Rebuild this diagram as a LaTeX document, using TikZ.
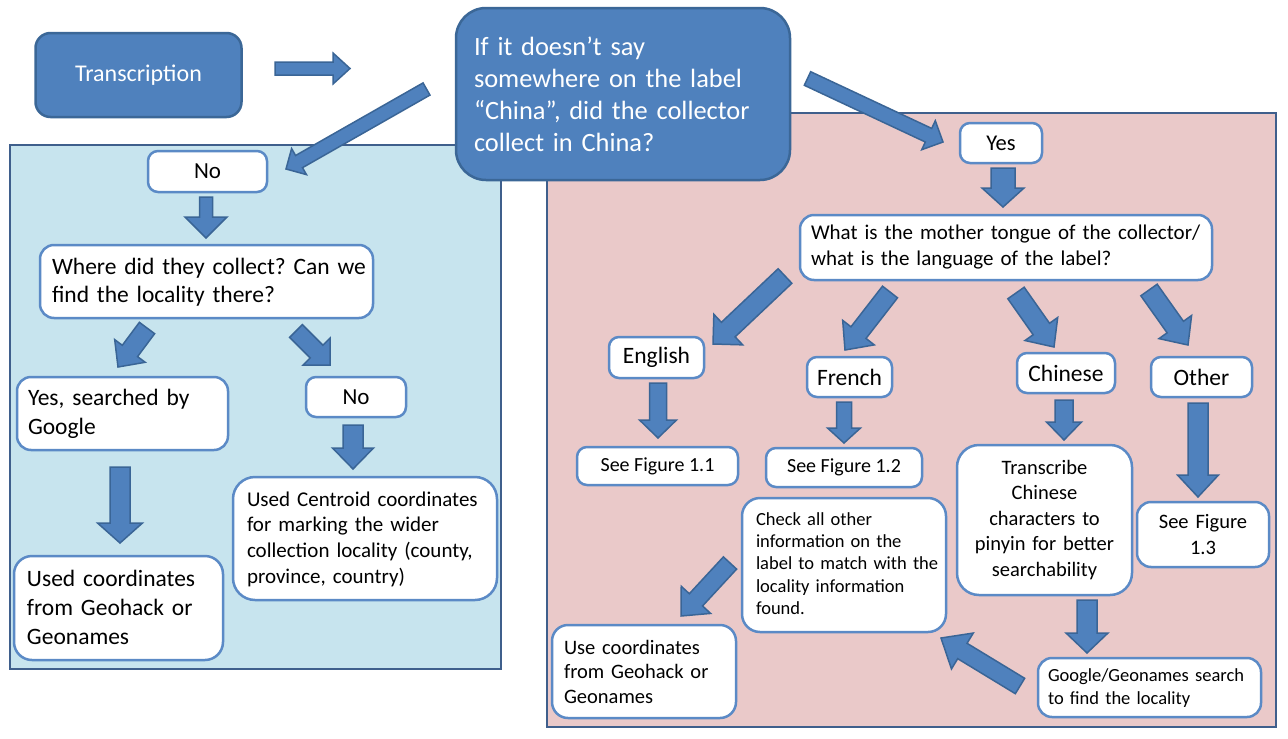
\documentclass[tikz,border=0pt]{standalone}
\usepackage{fontspec}
\setmainfont{Carlito}
\usetikzlibrary{calc}
\frenchspacing
\definecolor{mblue}{HTML}{4F81BD}
\definecolor{dblue}{HTML}{3B6797}
\definecolor{bline}{HTML}{5B8AC6}
\definecolor{aline}{HTML}{3A6596}
\definecolor{panelB}{HTML}{C7E4EE}
\definecolor{panelP}{HTML}{EAC9C9}
\definecolor{pline}{HTML}{3F5F8C}
\newcommand{\fs}[2]{\fontsize{#1pt}{#2pt}\selectfont}
\newcommand{\blockarrow}[5]{%
  \path ($(#2)!#5!(#1)$) coordinate (bh);
  \draw[barr] ($(#1)!#3!90:(#2)$) -- ($(bh)!#3!90:(#2)$) -- ($(bh)!#4!90:(#2)$) -- (#2)
    -- ($(bh)!#4!-90:(#2)$) -- ($(bh)!#3!-90:(#2)$) -- ($(#1)!#3!-90:(#2)$) -- cycle;}
\begin{document}
\begin{tikzpicture}[x=1pt,y=-1pt,
  wbox/.style={draw=bline, line width=2.5pt, fill=white, rounded corners=10pt, inner sep=0pt},
  bbox/.style={draw=dblue, line width=2.5pt, fill=mblue, text=white, rounded corners=16pt, inner sep=0pt},
  multi/.style={text height=0pt, text depth=#1},
  barr/.style={draw=aline, line width=1.5pt, fill=mblue, line join=miter},
  panel/.style={draw=pline, line width=2.5pt}]
\fill[white] (0,0) rectangle (1288,739);
\useasboundingbox (0,0) rectangle (1288,739);
% panels
\draw[panel, fill=panelB] (10,145) rectangle (501,669);
\draw[panel, fill=panelP] (547,113) rectangle (1276,727);
% top
\node[bbox, rounded corners=15pt, minimum width=206pt, minimum height=84pt, font=\fs{24}{29}] (trans) at (138.5,75) {Transcription};
\node[bbox, rounded corners=30pt, minimum height=172pt, text width=298pt, inner xsep=18pt, align=left, multi=78pt, font=\fs{26.4}{32.3}] (q) at (623,94)
  {\mbox{If it doesn’t say}\\\mbox{somewhere on the label}\\\mbox{“China”, did the collector}\\\mbox{collect in China?}};
% left panel
\node[wbox, minimum width=119pt, minimum height=41pt, font=\fs{23}{28}] (noL) at (207.5,171.5) {No};
\node[wbox, rounded corners=14pt, minimum height=73pt, text width=309pt, inner xsep=12pt, align=left, multi=15pt, font=\fs{23.5}{28.3}] (where) at (206.5,281.5)
  {\mbox{Where did they collect? Can we}\\\mbox{find the locality there?}};
\node[wbox, rounded corners=14pt, minimum height=73pt, text width=189pt, inner xsep=11pt, align=left, multi=15.6pt, font=\fs{23.5}{28.3}] (yesG) at (122.5,413.5)
  {\mbox{Yes, searched by}\\\mbox{Google}};
\node[wbox, minimum width=100pt, minimum height=40pt, font=\fs{23}{28}] (noL2) at (356,397) {No};
\node[wbox, rounded corners=18pt, minimum height=104pt, text width=183pt, inner xsep=13pt, align=left, multi=42.6pt, font=\fs{23.5}{28.7}] (usedL) at (118.5,608)
  {\mbox{Used coordinates}\\\mbox{from Geohack or}\\\mbox{Geonames}};
\node[wbox, rounded corners=22pt, minimum height=123pt, text width=236pt, inner xsep=14pt, align=left, multi=65pt, font=\fs{21}{25.7}] (centroid) at (365,538.5)
  {\mbox{Used Centroid coordinates}\\\mbox{for marking the wider}\\\mbox{collection locality (county,}\\\mbox{province, country)}};
% right panel
\node[wbox, minimum width=82pt, minimum height=40pt, font=\fs{22.5}{27}] (yes) at (1001,143) {Yes};
\node[wbox, rounded corners=14pt, minimum height=65pt, text width=390pt, inner xsep=11pt, align=left, multi=16.4pt, font=\fs{21}{25.7}] (lang) at (1006,247.5)
  {\mbox{What is the mother tongue of the collector/}\\\mbox{what is the language of the label?}};
\node[wbox, minimum width=95pt, minimum height=41pt, font=\fs{23.5}{28}] (english) at (656.5,357.5) {English};
\node[wbox, minimum width=85pt, minimum height=40pt, font=\fs{23.5}{28}] (french) at (849.5,377) {French};
\node[wbox, minimum width=98pt, minimum height=40pt, font=\fs{23.5}{28}] (chinese) at (1066,373) {Chinese};
\node[wbox, minimum width=101pt, minimum height=40pt, font=\fs{23.5}{28}] (other) at (1201.5,377) {Other};
\node[wbox, minimum width=161pt, minimum height=38pt, font=\fs{20}{25}] (fig11) at (657.5,466) {See Figure 1.1};
\node[wbox, minimum width=156pt, minimum height=39pt, font=\fs{20}{25}] (fig12) at (844,467.5) {See Figure 1.2};
\node[wbox, rounded corners=22pt, minimum height=150pt, text width=159pt, inner xsep=8pt, align=center, multi=92pt, font=\fs{20.5}{25.5}] (transcribe) at (1044.5,520)
  {Transcribe\\Chinese\\characters to\\\mbox{pinyin for better}\\searchability};
\node[wbox, rounded corners=14pt, minimum height=65pt, text width=116pt, inner xsep=8pt, align=center, multi=12.4pt, font=\fs{20.5}{25.7}] (fig13) at (1203,534.5)
  {See Figure\\1.3};
\node[wbox, rounded corners=18pt, minimum height=134pt, text width=176pt, inner xsep=14pt, align=left, multi=80pt, font=\fs{18.5}{22.4}] (check) at (844,565)
  {\mbox{Check all other}\\\mbox{information on the}\\\mbox{label to match with the}\\\mbox{locality information}\\\mbox{found.}};
\node[wbox, rounded corners=16pt, minimum height=93pt, text width=160pt, inner xsep=12pt, align=left, multi=35pt, font=\fs{20.5}{24.7}] (usecoord) at (644,671.5)
  {\mbox{Use coordinates}\\\mbox{from Geohack or}\\\mbox{Geonames}};
\node[wbox, rounded corners=14pt, minimum height=59pt, text width=203pt, inner xsep=10pt, align=left, multi=11.6pt, font=\fs{18.5}{22.3}] (google) at (1149.5,687.5)
  {\mbox{Google/Geonames search}\\\mbox{to find the locality}};
% arrow end points
\coordinate (a1s) at (275,68.5);   \coordinate (a1e) at (350,68.5);
\coordinate (a2s) at (426.5,89);   \coordinate (a2e) at (286,169);
\coordinate (a3s) at (807.5,78.5); \coordinate (a3e) at (943,142);
\coordinate (a4s) at (206,197);    \coordinate (a4e) at (206,238);
\coordinate (a5s) at (147,328);    \coordinate (a5e) at (118,367);
\coordinate (a6s) at (296,331);    \coordinate (a6e) at (330,365);
\coordinate (a7s) at (120,467);    \coordinate (a7e) at (120,543);
\coordinate (a8s) at (353,425);    \coordinate (a8e) at (353,469);
\coordinate (a9s) at (1003,168);   \coordinate (a9e) at (1003,207);
\coordinate (a10s) at (785,276);   \coordinate (a10e) at (713,344);
\coordinate (a11s) at (890,292);   \coordinate (a11e) at (845,350);
\coordinate (a12s) at (1016,293);  \coordinate (a12e) at (1054,347);
\coordinate (a13s) at (1149,290);  \coordinate (a13e) at (1188,345);
\coordinate (a14s) at (658,383);   \coordinate (a14e) at (658,438);
\coordinate (a15s) at (844,402);   \coordinate (a15e) at (844,443);
\coordinate (a16s) at (1064,400);  \coordinate (a16e) at (1064,440);
\coordinate (a17s) at (1198,403);  \coordinate (a17e) at (1198,497);
\coordinate (a18s) at (1087,600);  \coordinate (a18e) at (1087,653);
\coordinate (a19s) at (1020,686);  \coordinate (a19e) at (941,638);
\coordinate (a20s) at (730,563);   \coordinate (a20e) at (681,616);
% block arrows
\blockarrow{a1s}{a1e}{6.5pt}{15.5pt}{17pt}
\blockarrow{a2s}{a2e}{7pt}{15pt}{15pt}
\blockarrow{a3s}{a3e}{7.5pt}{16pt}{16pt}
\blockarrow{a4s}{a4e}{6.5pt}{21pt}{21pt}
\blockarrow{a5s}{a5e}{9.5pt}{19pt}{20pt}
\blockarrow{a6s}{a6e}{9pt}{19pt}{19pt}
\blockarrow{a7s}{a7e}{10pt}{22.5pt}{20pt}
\blockarrow{a8s}{a8e}{10pt}{20.5pt}{21pt}
\blockarrow{a9s}{a9e}{12pt}{21pt}{19pt}
\blockarrow{a10s}{a10e}{10pt}{21pt}{21pt}
\blockarrow{a11s}{a11e}{9.5pt}{20pt}{22pt}
\blockarrow{a12s}{a12e}{10pt}{20pt}{22pt}
\blockarrow{a13s}{a13e}{10pt}{20pt}{22pt}
\blockarrow{a14s}{a14e}{8.5pt}{18.5pt}{18pt}
\blockarrow{a15s}{a15e}{7.5pt}{16.5pt}{15pt}
\blockarrow{a16s}{a16e}{9pt}{17.5pt}{18pt}
\blockarrow{a17s}{a17e}{10pt}{20.5pt}{22pt}
\blockarrow{a18s}{a18e}{10pt}{21pt}{20pt}
\blockarrow{a19s}{a19e}{9pt}{21pt}{25pt}
\blockarrow{a20s}{a20e}{9pt}{20pt}{22pt}
\end{tikzpicture}
\end{document}
